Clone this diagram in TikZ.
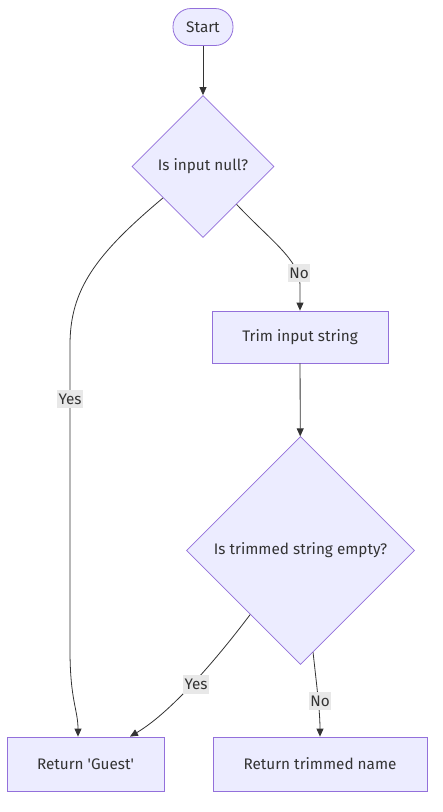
\documentclass[tikz,border=0pt]{standalone}
\usepackage{fontspec}
\setmainfont{Fira Sans}
\usetikzlibrary{shapes.geometric,arrows.meta,calc}
\definecolor{nodefill}{HTML}{ECECFF}
\definecolor{nodeline}{HTML}{9370DB}
\definecolor{txt}{HTML}{333333}
\definecolor{lbl}{HTML}{E8E8E8}
\begin{document}
\begin{tikzpicture}[x=1pt,y=-1pt,
  every node/.style={text=txt,font=\fontsize{15.3}{17}\selectfont},
  box/.style={draw=nodeline,fill=nodefill,line width=0.8pt,inner sep=0pt},
  dia/.style={box,diamond,shape aspect=1},
  edge/.style={draw=txt,line width=0.8pt,-{Triangle[length=8pt,width=7pt]}},
  lab/.style={fill=lbl,inner xsep=1.5pt,inner ysep=4pt}]
\useasboundingbox (0,0) rectangle (443,812);
\node[box,rounded corners=18pt,minimum width=60pt,minimum height=37pt] (start) at (203,27) {Start};
\node[dia,minimum width=142pt,minimum height=142pt] (d1) at (203,166.5) {Is input null?};
\node[box,minimum width=176pt,minimum height=52pt] (trim) at (300,337) {Trim input string};
\node[dia,minimum width=228pt,minimum height=228pt] (d2) at (300.5,550.5) {Is trimmed string empty?};
\node[box,minimum width=157pt,minimum height=54pt] (guest) at (85.5,764) {Return \textquotesingle Guest\textquotesingle};
\node[box,minimum width=214pt,minimum height=54pt] (name) at (320,764) {Return trimmed name};

\draw[edge] (start) -- (d1);
\draw[edge] ($(d1.west)!0.44!(d1.south)$) .. controls (95,255) and (70,290) .. (70,345) -- (70,650) .. controls (70,700) and (78,710) .. ($(guest.north)+(-7.5,0)$);
\draw[edge] ($(d1.east)!0.53!(d1.south)$) .. controls (270,240) and (300,260) .. (300,285) -- (trim.north);
\draw[edge] (trim) -- (d2);
\draw[edge] ($(d2.west)!0.56!(d2.south)$) .. controls (225,648) and (175,710) .. ($(guest.north)+(44.5,0)$);
\draw[edge] ($(d2.east)!0.89!(d2.south)$) .. controls (316,680) and (320,710) .. ($(name.north)$);

\node[lab] (l1) at (70,399) {Yes};
\node[lab] (l2) at (299,273) {No};
\node[lab] (l3) at (196,684.5) {Yes};
\node[lab] (l4) at (320,701) {No};
\end{tikzpicture}
\end{document}
